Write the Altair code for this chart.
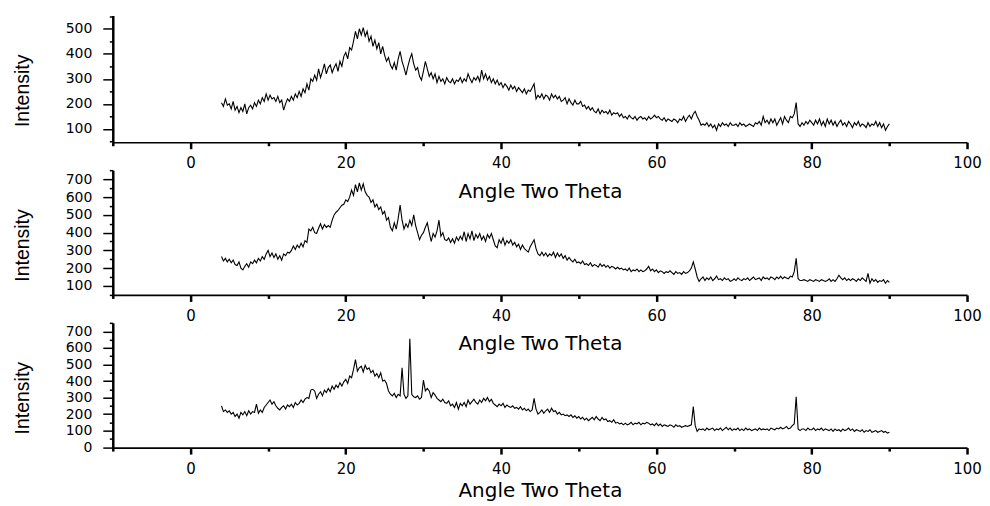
import altair as alt
import pandas as pd

# angle grid (degrees 2-theta), 0.25 deg step from 4 to 90
angles = [round(4 + 0.25 * i, 2) for i in range(345)]

# Panel 1 intensities
top_vals = (
    [205, 190, 220, 195]
    + [200, 180, 210, 175, 190, 165, 185, 170, 200, 160, 185, 195, 180, 205, 190, 215, 200, 225, 210, 240]
    + [215, 235, 220, 225, 210, 230, 205, 215, 175, 200, 220, 210, 230, 215, 240, 225, 250, 230, 260, 245]
    + [280, 255, 300, 290, 315, 295, 340, 305, 330, 360, 320, 345, 355, 325, 345, 360, 330, 370, 350, 390]
    + [405, 380, 425, 415, 450, 490, 460, 500, 475, 505, 470, 490, 450, 470, 430, 455, 420, 445, 400, 430]
    + [395, 370, 385, 355, 340, 365, 335, 380, 410, 370, 345, 315, 350, 380, 400, 360, 335, 345, 310, 295]
    + [330, 370, 340, 310, 325, 300, 320, 285, 310, 290, 300, 280, 305, 290, 285, 300, 280, 295, 290, 305]
    + [285, 300, 290, 320, 300, 285, 305, 295, 310, 290, 335, 300, 320, 295, 310, 285, 300, 280, 295, 275]
    + [285, 265, 280, 270, 255, 275, 260, 270, 250, 265, 255, 245, 260, 240, 255, 250, 265, 280, 220, 235]
    + [225, 240, 220, 235, 230, 215, 240, 225, 235, 220, 230, 210, 215, 225, 200, 220, 205, 195, 215, 200]
    + [200, 210, 190, 195, 180, 190, 175, 185, 170, 165, 180, 160, 175, 165, 170, 160, 175, 155, 165, 160]
    + [165, 150, 160, 145, 150, 140, 155, 145, 140, 150, 135, 145, 150, 140, 145, 135, 150, 140, 145, 155]
    + [145, 150, 140, 135, 145, 130, 140, 135, 130, 140, 135, 125, 140, 135, 150, 130, 145, 155, 140, 160]
    + [170, 150, 135, 115, 120, 115, 125, 110, 120, 105, 115, 95, 120, 110, 125, 115, 120, 110, 125, 115]
    + [115, 120, 110, 125, 115, 120, 110, 115, 120, 115, 110, 125, 120, 130, 115, 150, 125, 135, 120, 140]
    + [125, 140, 115, 130, 145, 120, 150, 135, 125, 150, 145, 160, 205, 120, 110, 125, 115, 130, 120, 135]
    + [125, 115, 135, 120, 140, 115, 130, 110, 140, 120, 135, 115, 130, 110, 125, 135, 115, 125, 110, 130]
    + [120, 105, 125, 115, 130, 110, 120, 115, 105, 125, 110, 120, 115, 130, 110, 125, 105, 120, 95, 110]
    + [120]
)

# Panel 2 intensities
mid_vals = (
    [265, 240, 255, 235]
    + [250, 230, 245, 220, 215, 235, 200, 190, 210, 225, 205, 235, 225, 245, 230, 255, 240, 265, 250, 280]
    + [300, 265, 285, 260, 280, 250, 270, 245, 280, 270, 290, 285, 300, 325, 305, 330, 315, 340, 320, 355]
    + [345, 420, 410, 430, 400, 395, 425, 450, 420, 445, 430, 440, 430, 470, 500, 515, 525, 540, 555, 560]
    + [585, 575, 600, 640, 610, 670, 630, 680, 640, 675, 630, 610, 600, 570, 585, 545, 560, 530, 545, 505]
    + [520, 470, 485, 430, 410, 455, 420, 480, 555, 470, 420, 450, 430, 470, 440, 500, 440, 400, 360, 385]
    + [400, 430, 455, 400, 350, 395, 375, 410, 470, 380, 400, 360, 355, 370, 345, 365, 340, 375, 355, 380]
    + [360, 405, 350, 395, 365, 410, 355, 390, 370, 395, 360, 380, 350, 390, 370, 395, 360, 325, 315, 360]
    + [340, 370, 330, 355, 340, 360, 330, 345, 320, 335, 305, 330, 310, 300, 290, 320, 340, 360, 310, 280]
    + [270, 290, 270, 285, 265, 280, 270, 290, 260, 285, 265, 280, 255, 270, 245, 260, 245, 235, 250, 230]
    + [235, 225, 240, 220, 225, 215, 230, 210, 220, 215, 205, 225, 210, 220, 205, 215, 200, 210, 205, 195]
    + [205, 195, 200, 190, 195, 185, 200, 180, 190, 185, 195, 180, 190, 180, 185, 195, 210, 185, 195, 180]
    + [190, 175, 185, 180, 170, 180, 175, 185, 175, 165, 180, 170, 175, 165, 180, 170, 175, 185, 200, 235]
    + [195, 150, 125, 140, 150, 130, 145, 135, 150, 130, 140, 155, 135, 140, 130, 145, 135, 140, 125, 130]
    + [140, 130, 145, 135, 130, 140, 135, 145, 130, 140, 150, 135, 140, 145, 130, 150, 140, 145, 135, 150]
    + [145, 135, 150, 140, 155, 140, 150, 145, 140, 155, 150, 180, 255, 140, 130, 130, 135, 130, 125, 135]
    + [130, 125, 135, 130, 125, 135, 130, 125, 130, 140, 125, 135, 125, 140, 160, 145, 135, 145, 130, 140]
    + [130, 140, 135, 125, 140, 130, 145, 135, 125, 170, 115, 140, 125, 135, 120, 130, 125, 135, 115, 130]
    + [120]
)

# Panel 3 intensities
bot_vals = (
    [250, 215, 225, 210]
    + [220, 200, 210, 185, 200, 175, 210, 195, 215, 190, 220, 200, 215, 210, 260, 205, 225, 210, 240, 255]
    + [270, 285, 260, 275, 250, 235, 225, 240, 250, 230, 255, 245, 260, 240, 270, 255, 265, 285, 270, 290]
    + [300, 295, 345, 350, 340, 295, 320, 335, 310, 345, 330, 355, 335, 370, 350, 375, 360, 390, 370, 395]
    + [410, 385, 430, 420, 470, 530, 460, 480, 490, 455, 495, 470, 480, 450, 465, 430, 445, 420, 450, 400]
    + [405, 385, 340, 320, 310, 325, 300, 320, 310, 480, 320, 295, 310, 655, 320, 305, 300, 310, 290, 300]
    + [405, 340, 355, 340, 300, 330, 315, 295, 285, 275, 290, 270, 265, 280, 250, 260, 240, 270, 230, 265]
    + [250, 270, 245, 285, 260, 275, 290, 270, 260, 285, 270, 295, 280, 300, 275, 290, 265, 255, 245, 260]
    + [250, 265, 240, 255, 245, 240, 250, 235, 240, 230, 245, 225, 235, 220, 230, 215, 225, 295, 230, 200]
    + [210, 225, 205, 220, 230, 210, 235, 215, 220, 200, 210, 195, 200, 190, 195, 185, 195, 180, 190, 175]
    + [185, 170, 180, 165, 175, 160, 170, 180, 165, 185, 170, 160, 180, 165, 170, 155, 160, 150, 165, 145]
    + [150, 140, 145, 135, 145, 135, 140, 150, 135, 145, 140, 150, 135, 145, 140, 150, 145, 135, 140, 130]
    + [145, 130, 140, 125, 135, 130, 125, 135, 130, 120, 135, 125, 130, 120, 125, 130, 125, 130, 135, 245]
    + [130, 95, 110, 105, 110, 100, 115, 105, 110, 115, 100, 110, 105, 115, 100, 110, 120, 105, 115, 100]
    + [110, 105, 115, 100, 110, 100, 115, 105, 110, 100, 105, 110, 100, 115, 105, 110, 105, 110, 100, 115]
    + [110, 105, 115, 110, 120, 110, 115, 125, 110, 115, 130, 140, 305, 110, 100, 110, 110, 100, 115, 105]
    + [105, 115, 100, 110, 105, 115, 100, 110, 105, 100, 110, 95, 110, 100, 105, 95, 110, 100, 105, 115]
    + [100, 110, 95, 105, 100, 95, 105, 90, 100, 95, 105, 90, 95, 100, 90, 95, 100, 90, 95, 85]
    + [90]
)

assert len(top_vals) == len(angles) == len(mid_vals) == len(bot_vals)

x_major = [0, 20, 40, 60, 80, 100]
x_minor = [-10, 10, 30, 50, 70, 90]
x_title = "Angle Two Theta"
y_title = "Intensity"

panels = [
    (top_vals, [47, 553], 127, [100, 200, 300, 400, 500], [50, 150, 250, 350, 450, 550], 55),
    (mid_vals, [49, 752], 125, [100, 200, 300, 400, 500, 600, 700], [50, 150, 250, 350, 450, 550, 650, 750], 55),
    (bot_vals, [-3, 752], 125, [0, 100, 200, 300, 400, 500, 600, 700], [50, 150, 250, 350, 450, 550, 650, 750], 49),
]


def make_panel(vals, ydom, h, y_major, y_minor, title_y):
    df = pd.DataFrame({"angle": angles, "intensity": vals})
    xs = alt.Scale(domain=[-10, 100], nice=False, zero=False)
    ys = alt.Scale(domain=ydom, nice=False, zero=False)
    xaxis = alt.Axis(
        orient="bottom",
        values=x_major,
        tickSize=6.5,
        tickWidth=2.5,
        tickColor="black",
        domainColor="black",
        domainWidth=1.6,
        labelFont="DejaVu Sans",
        labelFontSize=15,
        labelColor="black",
        labelPadding=7,
        labelFlush=False,
        labelOverlap=False,
        grid=False,
        title=x_title,
        titleFont="DejaVu Sans",
        titleFontSize=20,
        titleFontWeight="normal",
        titleColor="black",
        titleY=title_y,
        titleBaseline="alphabetic",
    )
    yaxis = alt.Axis(
        orient="left",
        values=y_major,
        tickSize=10,
        tickWidth=1.5,
        tickColor="black",
        domainColor="black",
        domainWidth=2.5,
        labelFont="DejaVu Sans",
        labelFontSize=14,
        labelColor="black",
        labelPadding=11,
        labelOverlap=False,
        labelFlush=False,
        grid=False,
        title=y_title,
        titleFont="Liberation Sans",
        titleFontSize=19.5,
        titleFontWeight="normal",
        titleColor="black",
        titleAngle=270,
        titleAlign="center",
        titleBaseline="alphabetic",
        titleX=-84,
        titleY=75,
    )
    line = (
        alt.Chart(df)
        .mark_line(color="black", strokeWidth=1.1)
        .encode(
            x=alt.X("angle:Q", scale=xs, axis=xaxis),
            y=alt.Y("intensity:Q", scale=ys, axis=yaxis),
        )
    )
    minor = (
        alt.Chart(df)
        .mark_line(strokeOpacity=0)
        .encode(
            x=alt.X(
                "angle:Q",
                scale=xs,
                axis=alt.Axis(orient="bottom", values=x_minor, labels=False, domain=False,
                              title=None, grid=False, tickSize=3.5, tickWidth=2.5, tickColor="black"),
            ),
            y=alt.Y(
                "intensity:Q",
                scale=ys,
                axis=alt.Axis(orient="left", values=y_minor, labels=False, domain=False,
                              title=None, grid=False, tickSize=3.5, tickWidth=1.5, tickColor="black"),
            ),
        )
    )
    return (
        alt.layer(line, minor)
        .resolve_axis(x="independent", y="independent")
        .properties(width=856, height=h)
    )


chart = (
    alt.vconcat(*[make_panel(*p) for p in panels], spacing=28, bounds="flush")
    .properties(padding={"left": 5, "top": 7, "right": 0, "bottom": 0}, background="white")
    .configure_view(stroke=None)
)

chart.save("out.html", embed_options={"renderer": "svg", "actions": False})
